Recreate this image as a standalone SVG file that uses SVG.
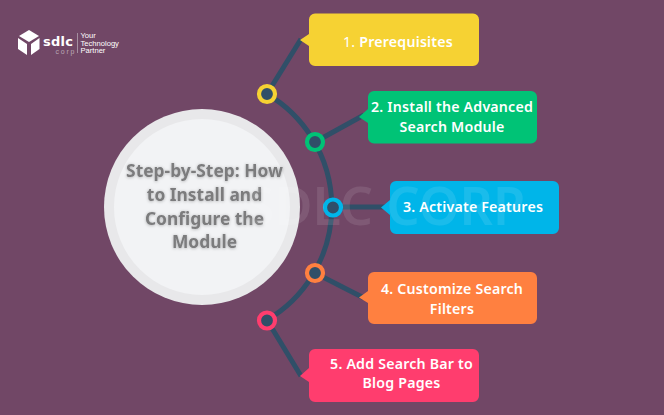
<svg xmlns="http://www.w3.org/2000/svg" width="664" height="415" viewBox="0 0 664 415">
<style>
.lbl{font-family:"Noto Sans","Open Sans",sans-serif;font-weight:600;font-size:14.2px;fill:#fff;text-anchor:middle;letter-spacing:.2px}
.ctr{font-family:"Noto Sans","Open Sans",sans-serif;font-weight:700;font-size:17.4px;fill:#7b7b7d;text-anchor:middle}
.wire{fill:none;stroke:#304f68;stroke-width:5}
.ring{fill:#304f68;stroke-width:4.2}
</style>
<defs><filter id="soft" x="-10%" y="-30%" width="120%" height="160%"><feDropShadow dx="0" dy="0.500" stdDeviation="1.500" flood-color="#000" flood-opacity=".3"/></filter></defs>
<rect width="664" height="415" fill="#714766"/>
<g id="logo">
<path d="M29 30 L39 36 L29 42 L19 36Z" fill="#fff"/>
<path d="M18 38 L27 44 L27 55 L18 49Z" fill="#fff"/>
<path d="M31 44 L39.500 38 L39.500 49 L31 55Z" fill="#fff"/>
<text x="43" y="46" font-family="'DejaVu Sans',sans-serif" font-weight="700" font-size="13" fill="#fff" textLength="30">sdlc</text>
<text x="55.500" y="54" font-family="'Liberation Sans',sans-serif" font-size="7" fill="#b9a6b4" textLength="19">corp</text>
<rect x="77" y="33" width="1" height="20" fill="#a58fa0"/>
<text font-family="'Liberation Sans',sans-serif" font-size="7.600" fill="#fff"><tspan x="80.500" y="38">Your</tspan><tspan x="80.500" y="45.500">Technology</tspan><tspan x="80.500" y="52.500">Partner</tspan></text>
</g>
<g id="connectors">
<path class="wire" d="M267 94 A131 131 0 0 1 267 320"/>
<path class="wire" d="M267 94 L301 39"/>
<path class="wire" d="M315 142 L364 115"/>
<path class="wire" d="M333 207 L388 207"/>
<path class="wire" d="M315 273 L364 298"/>
<path class="wire" d="M267 320 L301 376"/>
</g>
<g id="hub">
<circle cx="202" cy="207" r="98" fill="#e8e8ea"/>
<circle cx="202" cy="207" r="88" fill="#f2f3f5"/>
<g filter="url(#soft)"><text class="ctr"><tspan x="204.500" y="177">Step-by-Step: How</tspan><tspan x="204.500" y="201">to Install and</tspan><tspan x="204.500" y="225">Configure the</tspan><tspan x="204.500" y="248">Module</tspan></text></g>
</g>
<g id="step1">
<path d="M315 13.500H473a6 6 0 0 1 6 6V60a6 6 0 0 1-6 6H315a6 6 0 0 1-6-6V46L300 40L309 34V19.500a6 6 0 0 1 6-6Z" fill="#f6d233"/>
<text class="lbl" x="398" y="47"><tspan font-weight="400">1.</tspan> Prerequisites</text>
<circle class="ring" cx="267" cy="94" r="8" stroke="#f6d233"/>
</g>
<g id="step2">
<path d="M374 91H531a6 6 0 0 1 6 6V137.500a6 6 0 0 1-6 6H374a6 6 0 0 1-6-6V123L359 117L368 109V97a6 6 0 0 1 6-6Z" fill="#00c376"/>
<text class="lbl"><tspan x="452" y="112">2. Install the Advanced</tspan><tspan x="452" y="132">Search Module</tspan></text>
<circle class="ring" cx="315" cy="142" r="8" stroke="#00c376"/>
</g>
<g id="step3">
<path d="M396 181H553a6 6 0 0 1 6 6V228a6 6 0 0 1-6 6H396a6 6 0 0 1-6-6V215L381 207.500L390 200V187a6 6 0 0 1 6-6Z" fill="#00b5e9"/>
<text class="lbl" x="473" y="212">3. Activate Features</text>
<circle class="ring" cx="333" cy="207.500" r="8" stroke="#00b5e9"/>
</g>
<g id="step4">
<path d="M374 272H531a6 6 0 0 1 6 6V318a6 6 0 0 1-6 6H374a6 6 0 0 1-6-6V303L359 297.500L368 291V278a6 6 0 0 1 6-6Z" fill="#ff8040"/>
<text class="lbl"><tspan x="452" y="294">4. Customize Search</tspan><tspan x="452" y="314">Filters</tspan></text>
<circle class="ring" cx="315" cy="273" r="8" stroke="#ff8040"/>
</g>
<g id="step5">
<path d="M315 349H473a6 6 0 0 1 6 6V396a6 6 0 0 1-6 6H315a6 6 0 0 1-6-6V382L300 376L309 368V355a6 6 0 0 1 6-6Z" fill="#ff3d6e"/>
<text class="lbl"><tspan x="401.500" y="369">5. Add Search Bar to</tspan><tspan x="401.500" y="388">Blog Pages</tspan></text>
<circle class="ring" cx="267" cy="320.500" r="8" stroke="#ff3d6e"/>
</g>
<text x="525" y="225" font-family="'Noto Sans',sans-serif" font-weight="600" font-size="52" fill="#fff" fill-opacity=".1" text-anchor="end">SDLC CORP</text>
</svg>
